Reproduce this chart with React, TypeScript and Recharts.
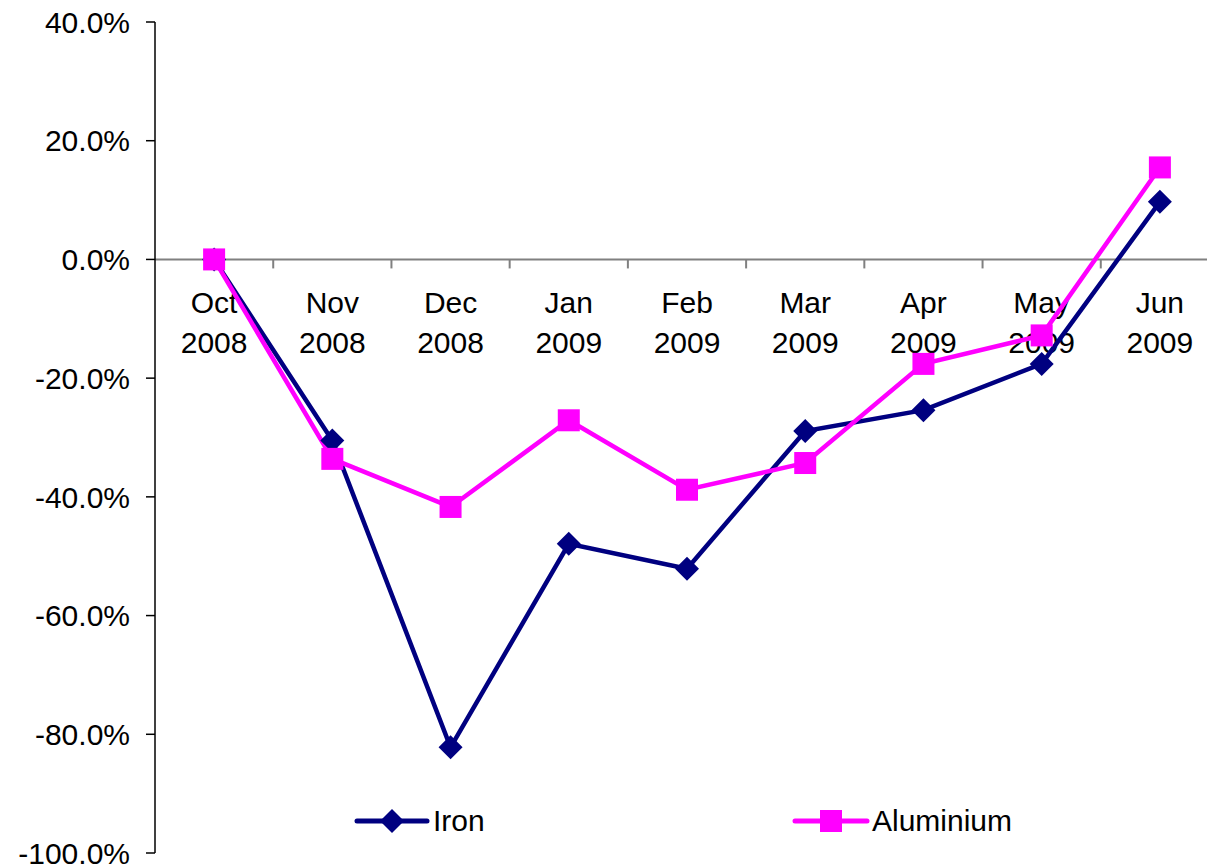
import { Line, LineChart, ReferenceLine, XAxis, YAxis } from "recharts";

const months = ["Oct", "Nov", "Dec", "Jan", "Feb", "Mar", "Apr", "May", "Jun"];
const years = ["2008", "2008", "2008", "2009", "2009", "2009", "2009", "2009", "2009"];
const iron = [0, -0.305, -0.822, -0.479, -0.521, -0.289, -0.254, -0.176, 0.097];
const aluminium = [0, -0.336, -0.417, -0.271, -0.388, -0.343, -0.176, -0.128, 0.155];
const yTicks = [-1, -0.8, -0.6, -0.4, -0.2, 0, 0.2, 0.4];

const IRON = "#000080";
const ALU = "#FF00FF";
const FONT = "'Liberation Sans', Arial, sans-serif";

const data = months.map((m, i) => ({
  label: `${m} ${years[i]}`,
  iron: iron[i],
  aluminium: aluminium[i],
}));

const pct = (v: number) => `${(v * 100).toFixed(1)}%`;

const Diamond = ({ cx, cy }: any) => {
  if (cx == null || cy == null) return null;
  const r = 12;
  return <path d={`M${cx},${cy - r}L${cx + r},${cy}L${cx},${cy + r}L${cx - r},${cy}Z`} fill={IRON} />;
};

const Square = ({ cx, cy }: any) => {
  if (cx == null || cy == null) return null;
  return <rect x={cx - 11} y={cy - 11} width={22} height={22} fill={ALU} />;
};

// category axis drawn along the zero line
const ZeroAxis = ({ viewBox }: any) => {
  if (!viewBox) return null;
  const { x, y, width } = viewBox;
  const band = width / months.length;
  return (
    <g>
      {months.map((m, i) => (
        <line key={`t${i}`} x1={x + (i + 1) * band} x2={x + (i + 1) * band} y1={y} y2={y + 9} stroke="#808080" strokeWidth={2} />
      ))}
      {months.map((m, i) => (
        <text key={m} x={x + (i + 0.5) * band} y={y + 54} textAnchor="middle" fontSize={30} fontFamily={FONT} fill="#000">
          <tspan x={x + (i + 0.5) * band}>{m}</tspan>
          <tspan x={x + (i + 0.5) * band} dy={40}>{years[i]}</tspan>
        </text>
      ))}
    </g>
  );
};

const LegendBox = () => (
  <svg width={1207} height={40} style={{ position: "absolute", left: 0, top: 801 }}>
    <line x1={357} x2={427} y1={20} y2={20} stroke={IRON} strokeWidth={5} strokeLinecap="round" />
    <Diamond cx={392} cy={20} />
    <text x={433} y={30} fontSize={30} fontFamily={FONT}>Iron</text>
    <line x1={795} x2={867} y1={20} y2={20} stroke={ALU} strokeWidth={5} strokeLinecap="round" />
    <Square cx={831} cy={20} />
    <text x={872} y={30} fontSize={30} fontFamily={FONT}>Aluminium</text>
  </svg>
);

export default function App() {
  return (
    <div style={{ position: "fixed", left: 0, top: 0, width: 1207, height: 867, overflow: "hidden", background: "#fff" }}>
      <LineChart
        width={1230}
        height={867}
        data={data}
        margin={{ top: 22, right: 11, bottom: 14, left: 0 }}
        style={{ fontFamily: FONT }}
      >
        <XAxis dataKey="label" scale="band" hide />
        <YAxis
          width={155}
          domain={[-1, 0.4]}
          ticks={yTicks}
          tickFormatter={pct}
          interval={0}
          axisLine={{ stroke: "#000", strokeWidth: 1.5 }}
          tickLine={{ stroke: "#000", strokeWidth: 1.5 }}
          tickSize={9}
          tickMargin={16}
          tick={{ fontSize: 30, fill: "#000", fontFamily: FONT }}
        />
        <ReferenceLine y={0} stroke="#808080" strokeWidth={2} label={<ZeroAxis />} />
        <Line
          dataKey="iron"
          stroke={IRON}
          strokeWidth={4.5}
          dot={<Diamond />}
          activeDot={false}
          isAnimationActive={false}
        />
        <Line
          dataKey="aluminium"
          stroke={ALU}
          strokeWidth={4.5}
          dot={<Square />}
          activeDot={false}
          isAnimationActive={false}
        />
      </LineChart>
      <LegendBox />
    </div>
  );
}
